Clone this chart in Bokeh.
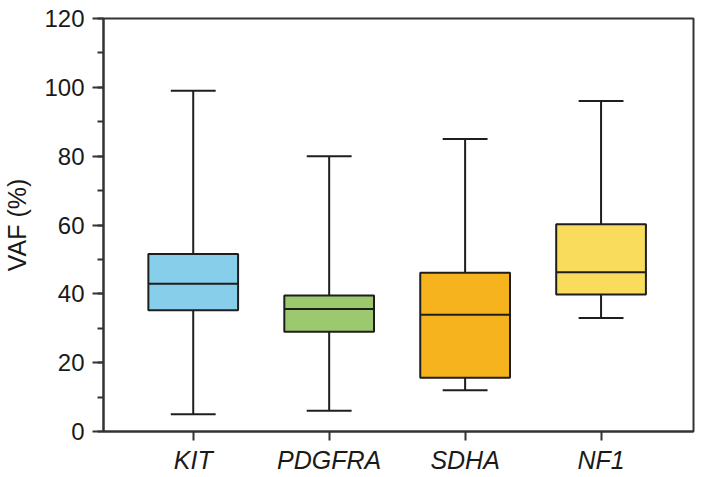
from bokeh.plotting import figure
from bokeh.models import Range1d, FixedTicker, SingleIntervalTicker, ColumnDataSource
from bokeh.embed import file_html
from bokeh.resources import INLINE

categories = ["KIT", "PDGFRA", "SDHA", "NF1"]
lower = [5, 6, 12, 33]
q1 = [35.2, 29.0, 15.6, 39.8]
median = [42.9, 35.6, 33.9, 46.3]
q3 = [51.6, 39.5, 46.1, 60.2]
upper = [99, 80, 85, 96]
colors = ["#87CEEB", "#9CC96E", "#F7B31D", "#F9DC5C"]
y_ticks = [0, 20, 40, 60, 80, 100, 120]

xs = list(range(1, len(categories) + 1))
box_w = 0.66
cap_w = 0.33

src = ColumnDataSource(dict(
    x=xs, lower=lower, q1=q1, median=median, q3=q3, upper=upper, color=colors,
    x0=[x - box_w / 2 for x in xs], x1=[x + box_w / 2 for x in xs],
    c0=[x - cap_w / 2 for x in xs], c1=[x + cap_w / 2 for x in xs],
))

p = figure(width=706, height=477, output_backend="svg", toolbar_location=None,
           x_range=Range1d(0.34, 4.68), y_range=Range1d(0, 120),
           min_border_left=103, min_border_right=13, min_border_top=18, min_border_bottom=46)
p.xgrid.visible = False
p.ygrid.visible = False
p.background_fill_color = "white"
p.border_fill_color = "white"
p.outline_line_color = "#333333"
p.outline_line_width = 2

lc = "#1e1e1e"
lw = 2
# whiskers
p.segment(x0="x", y0="q3", x1="x", y1="upper", source=src, line_color=lc, line_width=lw)
p.segment(x0="x", y0="q1", x1="x", y1="lower", source=src, line_color=lc, line_width=lw)
p.segment(x0="c0", y0="upper", x1="c1", y1="upper", source=src, line_color=lc, line_width=lw)
p.segment(x0="c0", y0="lower", x1="c1", y1="lower", source=src, line_color=lc, line_width=lw)
# boxes
p.vbar(x="x", width=box_w, top="q3", bottom="q1", source=src, fill_color="color",
       line_color=lc, line_width=lw)
p.segment(x0="x0", y0="median", x1="x1", y1="median", source=src, line_color=lc, line_width=lw)

font = "Liberation Sans"
# y axis
p.yaxis.ticker = SingleIntervalTicker(interval=20, num_minor_ticks=2)
p.yaxis.axis_label = "VAF (%)"
p.yaxis.axis_label_text_font = font
p.yaxis.axis_label_text_font_size = "25px"
p.yaxis.axis_label_text_font_style = "normal"
p.yaxis.axis_label_text_color = "#1a1a1a"
p.yaxis.axis_label_standoff = 10
p.yaxis.major_label_text_font = font
p.yaxis.major_label_text_font_size = "24px"
p.yaxis.major_label_text_color = "#1a1a1a"
p.yaxis.major_label_standoff = 8
p.yaxis.major_tick_out = 11
p.yaxis.major_tick_in = 0
p.yaxis.minor_tick_out = 6
p.yaxis.minor_tick_in = 0
p.yaxis.axis_line_width = 2
p.yaxis.major_tick_line_width = 2
p.yaxis.minor_tick_line_width = 2
p.yaxis.axis_line_color = "#333333"
p.yaxis.major_tick_line_color = "#333333"
p.yaxis.minor_tick_line_color = "#333333"

# x axis
p.xaxis.ticker = FixedTicker(ticks=xs)
p.xaxis.major_label_overrides = {x: c for x, c in zip(xs, categories)}
p.xaxis.major_label_text_font = font
p.xaxis.major_label_text_font_size = "25px"
p.xaxis.major_label_text_font_style = "italic"
p.xaxis.major_label_text_color = "#1a1a1a"
p.xaxis.major_label_standoff = 5
p.xaxis.major_tick_out = 9
p.xaxis.major_tick_in = 0
p.xaxis.minor_tick_line_color = None
p.xaxis.axis_line_width = 2
p.xaxis.major_tick_line_width = 2
p.xaxis.axis_line_color = "#333333"
p.xaxis.major_tick_line_color = "#333333"

open("out.html", "w").write(file_html(p, INLINE))
